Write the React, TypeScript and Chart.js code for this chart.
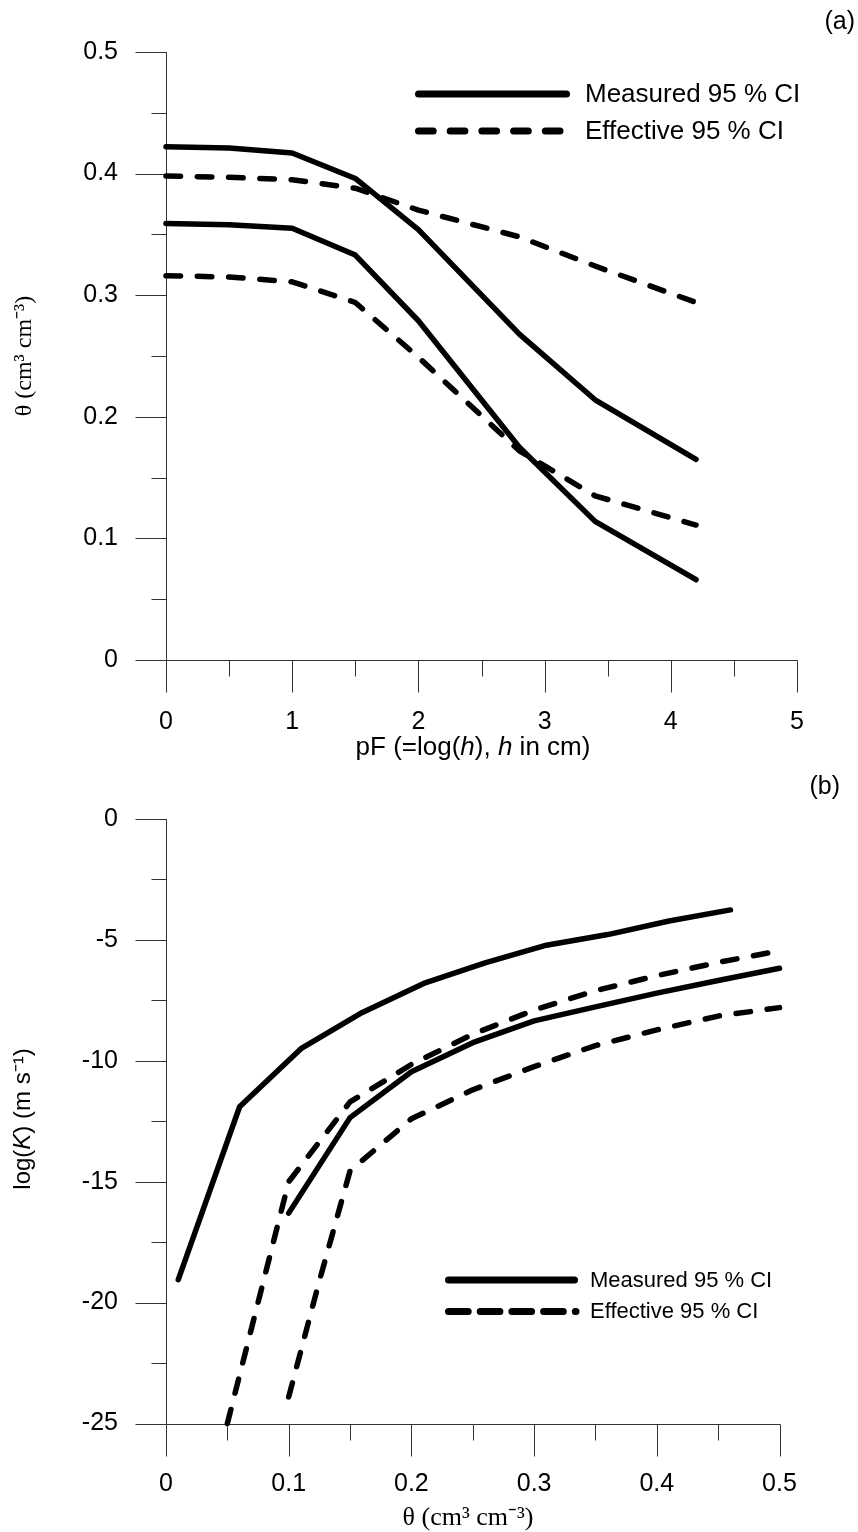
import React, { useEffect, useRef } from 'react';
import { Chart, registerables } from 'chart.js';

Chart.register(...registerables);

// ---------- Panel (a): water retention ----------
const pF = [0, 0.5, 1, 1.5, 2, 2.8, 3.4, 4.2];
const thetaMeasuredUpper = [0.422, 0.421, 0.417, 0.396, 0.354, 0.268, 0.214, 0.165];
const thetaMeasuredLower = [0.359, 0.358, 0.355, 0.333, 0.279, 0.175, 0.114, 0.066];
const thetaEffectiveUpper = [0.398, 0.397, 0.395, 0.388, 0.37, 0.348, 0.324, 0.294];
const thetaEffectiveLower = [0.316, 0.315, 0.311, 0.294, 0.249, 0.172, 0.135, 0.111];

const aXTicks = [0, 1, 2, 3, 4, 5];
const aXMinor = [0.5, 1.5, 2.5, 3.5, 4.5];
const aYTicks = [0, 0.1, 0.2, 0.3, 0.4, 0.5];
const aYMinor = [0.05, 0.15, 0.25, 0.35, 0.45];

// ---------- Panel (b): hydraulic conductivity ----------
const thetaMU = [0.01, 0.06, 0.11, 0.16, 0.21, 0.26, 0.31, 0.36, 0.41, 0.46];
const logKMU = [-19.05, -11.9, -9.5, -8.0, -6.8, -5.95, -5.22, -4.78, -4.22, -3.76];
const thetaML = [0.1, 0.15, 0.2, 0.25, 0.3, 0.35, 0.4, 0.45, 0.5];
const logKML = [-16.3, -12.35, -10.45, -9.25, -8.35, -7.77, -7.2, -6.68, -6.17];
const thetaEU = [0.05, 0.075, 0.1, 0.15, 0.2, 0.25, 0.3, 0.35, 0.4, 0.45, 0.5];
const logKEU = [-25, -20, -15, -11.7, -10.15, -8.9, -7.9, -7.1, -6.48, -5.93, -5.45];
const thetaEL = [0.1, 0.125, 0.15, 0.2, 0.25, 0.3, 0.35, 0.4, 0.45, 0.5];
const logKEL = [-23.9, -19.1, -14.55, -12.4, -11.2, -10.24, -9.37, -8.72, -8.15, -7.8];

const bXTicks = [0, 0.1, 0.2, 0.3, 0.4, 0.5];
const bXMinor = [0.05, 0.15, 0.25, 0.35, 0.45];
const bYTicks = [-25, -20, -15, -10, -5, 0];
const bYMinor = [-22.5, -17.5, -12.5, -7.5, -2.5];

const legendLabels = ['Measured 95 % CI', 'Effective 95 % CI'];

const SANS = '"Liberation Sans", Arial, sans-serif';
const SERIF = '"Liberation Serif", "Times New Roman", serif';
const DATA_DASH = [14.5, 16.8];

type Seg = [string, string];

function drawRich(ctx: CanvasRenderingContext2D, segs: Seg[], cx: number, cy: number) {
  let total = 0;
  const widths = segs.map(([t, f]) => {
    ctx.font = f;
    const w = ctx.measureText(t).width;
    total += w;
    return w;
  });
  let x = cx - total / 2;
  ctx.textAlign = 'left';
  ctx.textBaseline = 'middle';
  segs.forEach(([t, f], i) => {
    ctx.font = f;
    ctx.fillText(t, x, cy);
    x += widths[i];
  });
}

function pts(xs: number[], ys: number[]) {
  return xs.map((x, i) => ({ x, y: ys[i] }));
}

function line(xs: number[], ys: number[], dashed: boolean) {
  return {
    data: pts(xs, ys),
    borderColor: '#000',
    backgroundColor: '#000',
    borderWidth: 5.5,
    borderCapStyle: 'round',
    borderJoinStyle: 'round',
    borderDash: dashed ? DATA_DASH : [],
    pointRadius: 0,
    fill: false,
    tension: 0,
    clip: false,
  };
}

interface Decor {
  id: string;
  xMajor: number[];
  xMinor: number[];
  yMajor: number[];
  yMinor: number[];
  yTop: number;
  xRight: number;
  extra: (ctx: CanvasRenderingContext2D) => void;
}

function makeDecor(d: Decor) {
  return {
    id: d.id,
    beforeDatasetsDraw(chart: any) {
      const { ctx, chartArea, scales } = chart;
      const xs = scales.x;
      const ys = scales.y;
      const L = Math.round(chartArea.left) + 0.5;
      const B = Math.round(chartArea.bottom) + 0.5;
      ctx.save();
      ctx.strokeStyle = '#333';
      ctx.lineWidth = 1;
      ctx.setLineDash([]);
      ctx.beginPath();
      ctx.moveTo(L, Math.round(ys.getPixelForValue(d.yTop)));
      ctx.lineTo(L, B);
      ctx.moveTo(L, B);
      ctx.lineTo(Math.round(xs.getPixelForValue(d.xRight)) + 0.5, B);
      d.xMajor.forEach((v) => {
        const px = Math.round(xs.getPixelForValue(v)) + 0.5;
        ctx.moveTo(px, B);
        ctx.lineTo(px, B + 32);
      });
      d.xMinor.forEach((v) => {
        const px = Math.round(xs.getPixelForValue(v)) + 0.5;
        ctx.moveTo(px, B);
        ctx.lineTo(px, B + 16);
      });
      d.yMajor.forEach((v) => {
        const py = Math.round(ys.getPixelForValue(v)) + 0.5;
        ctx.moveTo(L - 31, py);
        ctx.lineTo(L, py);
      });
      d.yMinor.forEach((v) => {
        const py = Math.round(ys.getPixelForValue(v)) + 0.5;
        ctx.moveTo(L - 15, py);
        ctx.lineTo(L, py);
      });
      ctx.stroke();
      ctx.restore();
    },
    afterDraw(chart: any) {
      const ctx = chart.ctx as CanvasRenderingContext2D;
      ctx.save();
      ctx.fillStyle = '#000';
      ctx.strokeStyle = '#000';
      d.extra(ctx);
      ctx.restore();
    },
  };
}

function legendLine(ctx: CanvasRenderingContext2D, x1: number, x2: number, y: number, dash: number[]) {
  ctx.beginPath();
  ctx.lineWidth = 7;
  ctx.lineCap = 'round';
  ctx.setLineDash(dash);
  ctx.moveTo(x1, y);
  ctx.lineTo(x2, y);
  ctx.stroke();
  ctx.setLineDash([]);
}

function scaleCfg(
  min: number,
  max: number,
  ticks: number[],
  padding: number,
  fit: (s: any) => void
) {
  return {
    type: 'linear',
    min,
    max,
    grid: { display: false, drawTicks: false },
    border: { display: false },
    afterBuildTicks: (s: any) => {
      s.ticks = ticks.map((v) => ({ value: v }));
    },
    afterFit: (s: any) => {
      fit(s);
      s.paddingTop = 0;
      s.paddingBottom = 0;
      s.paddingLeft = 0;
      s.paddingRight = 0;
    },
    ticks: {
      padding,
      color: '#000',
      autoSkip: false,
      maxRotation: 0,
      minRotation: 0,
      font: { family: SANS, size: 25 },
      callback: (v: any) => String(v),
    },
  };
}

const baseOptions = (padding: any, scales: any) => ({
  animation: false,
  responsive: false,
  maintainAspectRatio: false,
  devicePixelRatio: 1,
  layout: { padding },
  plugins: { legend: { display: false }, tooltip: { enabled: false } },
  events: [],
  scales,
});

export default function App() {
  const topRef = useRef<HTMLCanvasElement>(null);
  const botRef = useRef<HTMLCanvasElement>(null);

  useEffect(() => {
    const decorA = makeDecor({
      id: 'decorA',
      xMajor: aXTicks,
      xMinor: aXMinor,
      yMajor: aYTicks,
      yMinor: aYMinor,
      yTop: 0.5,
      xRight: 5,
      extra: (ctx) => {
        // legend
        legendLine(ctx, 418.5, 566.5, 94, []);
        legendLine(ctx, 418.5, 566.5, 131, [14.7, 17]);
        ctx.font = `26px ${SANS}`;
        ctx.textAlign = 'left';
        ctx.textBaseline = 'middle';
        ctx.fillText(legendLabels[0], 585, 95);
        ctx.fillText(legendLabels[1], 585, 132);
        // panel label
        ctx.font = `25px ${SANS}`;
        ctx.textAlign = 'right';
        ctx.fillText('(a)', 855, 22);
        // x title
        drawRich(
          ctx,
          [
            ['pF (=log(', `26px ${SANS}`],
            ['h', `italic 26px ${SANS}`],
            ['), ', `26px ${SANS}`],
            ['h', `italic 26px ${SANS}`],
            [' in cm)', `26px ${SANS}`],
          ],
          473,
          748
        );
        // y title
        ctx.save();
        ctx.translate(25, 356);
        ctx.rotate(-Math.PI / 2);
        drawRich(ctx, [['θ (cm³ cm⁻³)', `24px ${SERIF}`]], 0, 0);
        ctx.restore();
      },
    });

    const decorB = makeDecor({
      id: 'decorB',
      xMajor: bXTicks,
      xMinor: bXMinor,
      yMajor: bYTicks,
      yMinor: bYMinor,
      yTop: 0,
      xRight: 0.5,
      extra: (ctx) => {
        legendLine(ctx, 448.5, 574.5, 510, []);
        legendLine(ctx, 448.5, 576, 541.5, [19.7, 12]);
        ctx.font = `22px ${SANS}`;
        ctx.textAlign = 'left';
        ctx.textBaseline = 'middle';
        ctx.fillText(legendLabels[0], 590, 511);
        ctx.fillText(legendLabels[1], 590, 542);
        ctx.font = `25px ${SANS}`;
        ctx.textAlign = 'right';
        ctx.fillText('(b)', 840, 17);
        drawRich(ctx, [['θ (cm³ cm⁻³)', `26px ${SERIF}`]], 468, 748);
        ctx.save();
        ctx.translate(23, 349);
        ctx.rotate(-Math.PI / 2);
        drawRich(
          ctx,
          [
            ['log(', `24px ${SANS}`],
            ['K', `italic 24px ${SANS}`],
            [') (m s⁻¹)', `24px ${SANS}`],
          ],
          0,
          0
        );
        ctx.restore();
      },
    });

    const chartA = new Chart(topRef.current as HTMLCanvasElement, {
      type: 'line',
      data: {
        datasets: [
          line(pF, thetaMeasuredUpper, false),
          line(pF, thetaMeasuredLower, false),
          line(pF, thetaEffectiveUpper, true),
          line(pF, thetaEffectiveLower, true),
        ] as any,
      },
      options: baseOptions(
        { top: 52, right: 61, left: 0, bottom: 0 },
        {
          x: scaleCfg(0, 5, aXTicks, 47, (s: any) => {
            s.height = 110;
          }),
          y: scaleCfg(0, 0.5, aYTicks, 48, (s: any) => {
            s.width = 166;
          }),
        }
      ) as any,
      plugins: [decorA as any],
    });

    const chartB = new Chart(botRef.current as HTMLCanvasElement, {
      type: 'line',
      data: {
        datasets: [
          line(thetaMU, logKMU, false),
          line(thetaML, logKML, false),
          line(thetaEU, logKEU, true),
          line(thetaEL, logKEL, true),
        ] as any,
      },
      options: baseOptions(
        { top: 49, right: 78.5, left: 0, bottom: 0 },
        {
          x: scaleCfg(0, 0.5, bXTicks, 46, (s: any) => {
            s.height = 108.5;
          }),
          y: scaleCfg(-25, 0, bYTicks, 48, (s: any) => {
            s.width = 166;
          }),
        }
      ) as any,
      plugins: [decorB as any],
    });

    return () => {
      chartA.destroy();
      chartB.destroy();
    };
  }, []);

  return (
    <div style={{ position: 'absolute', left: 0, top: 0, width: 858, height: 1532, background: '#fff' }}>
      <canvas
        ref={topRef}
        width={858}
        height={770}
        style={{ position: 'absolute', left: 0, top: 0, width: 858, height: 770 }}
      />
      <canvas
        ref={botRef}
        width={858}
        height={762}
        style={{ position: 'absolute', left: 0, top: 770, width: 858, height: 762 }}
      />
    </div>
  );
}
